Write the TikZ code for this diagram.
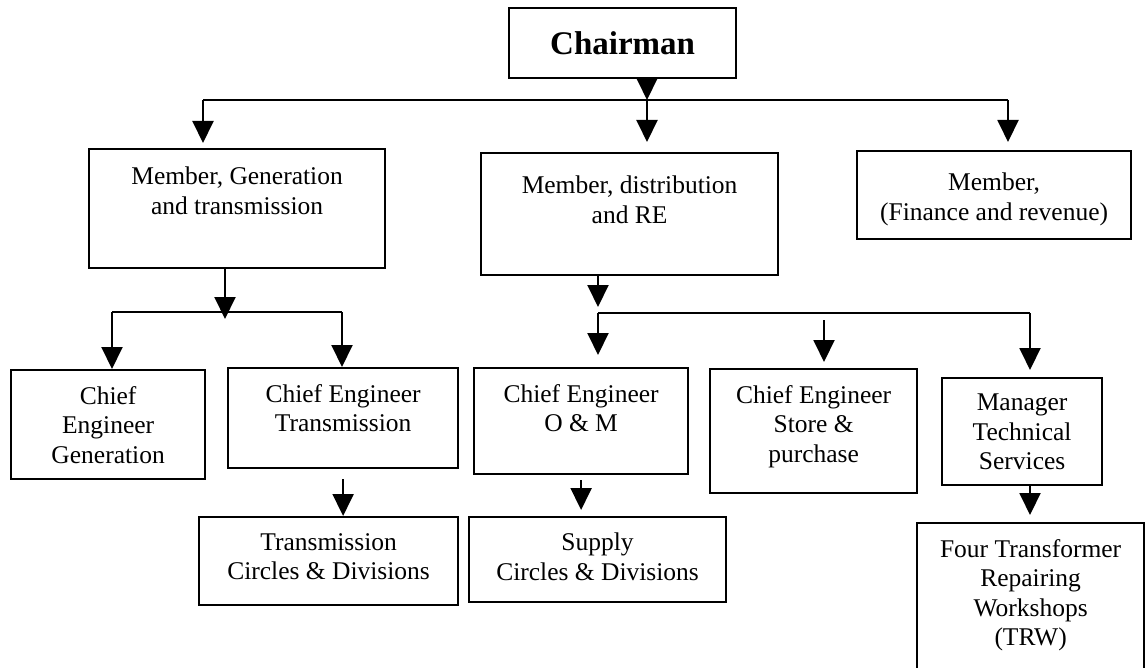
\documentclass[tikz,border=0pt]{standalone}
\usepackage{fontspec}
\setmainfont{Liberation Serif}
\usetikzlibrary{arrows.meta, positioning, calc}

\tikzset{
  unit/.style={draw, line width=2.2pt, anchor=north west, inner sep=0pt},
  lbl/.style={anchor=north, align=center, inner sep=0pt, font=\fontsize{25.5}{29.5}\selectfont},
  arr/.style={line width=2pt, -{Triangle[length=22pt,width=21pt]}},
  bus/.style={line width=2pt}
}

\begin{document}
\begin{tikzpicture}[x=1pt, y=-1pt]
\useasboundingbox (0,0) rectangle (1147,668);

% boxes
\node[unit, minimum width=227pt, minimum height=70pt, font=\fontsize{33}{38}\selectfont\bfseries] (chair) at (508,7) {Chairman};
\node[unit, minimum width=296pt, minimum height=119pt] (memgen) at (88,148) {};
\node[unit, minimum width=297pt, minimum height=122pt] (memdist) at (480,152) {};
\node[unit, minimum width=274pt, minimum height=88pt] (fin) at (856,150) {};
\node[unit, minimum width=194pt, minimum height=109pt] (cegen) at (10,369) {};
\node[unit, minimum width=230pt, minimum height=100pt] (cetrans) at (227,367) {};
\node[unit, minimum width=214pt, minimum height=106pt] (ceom) at (473,367) {};
\node[unit, minimum width=207pt, minimum height=124pt] (store) at (709,368) {};
\node[unit, minimum width=160pt, minimum height=107pt] (mgr) at (941,377) {};
\node[unit, minimum width=259pt, minimum height=88pt] (transcirc) at (198,516) {};
\node[unit, minimum width=257pt, minimum height=85pt] (supply) at (468,516) {};
\node[unit, minimum width=227pt, minimum height=160pt] (trw) at (916,522) {};

% texts
\node[lbl, below=19pt of memgen.north] (memgentxt) {Member, Generation\\and transmission};
\node[lbl, below=24pt of memdist.north] (memdisttxt) {Member, distribution\\and RE};
\node[lbl, below=23pt of fin.north] (fintxt) {Member,\\(Finance and revenue)};
\node[lbl, below=17pt of cegen.north] (cegentxt) {Chief\\Engineer\\Generation};
\node[lbl, below=17pt of cetrans.north] (cetranstxt) {Chief Engineer\\Transmission};
\node[lbl, below=17pt of ceom.north] (ceomtxt) {Chief Engineer\\O \& M};
\node[lbl, below=17pt of store.north] (storetxt) {Chief Engineer\\Store \&\\purchase};
\node[lbl, below=17pt of mgr.north] (mgrtxt) {Manager\\Technical\\Services};
\node[lbl, below=17pt of transcirc.north] (transcirctxt) {Transmission\\Circles \& Divisions};
\node[lbl, below=17pt of supply.north] (supplytxt) {Supply\\Circles \& Divisions};
\node[lbl, below=17pt of trw.north] (trwtxt) {Four Transformer\\Repairing\\Workshops\\(TRW)};

% bus points
\coordinate (top) at (647,100);
\coordinate (topL) at (203,100);
\coordinate (topR) at (1008,100);
\coordinate (genbus) at (225,312);
\coordinate (genL) at (112,312);
\coordinate (genR) at (342,312);
\coordinate (disL) at (598,313);
\coordinate (disM) at (824,313);
\coordinate (disR) at (1030,313);

% chairman level
\draw[arr] (chair.south -| top) -- (top);
\draw[bus] (topL) -- (topR);
\draw[arr, shorten >=5pt] (topL) -- (memgen.north -| topL);
\draw[arr, shorten >=10pt] (top) -- (memdist.north -| top);
\draw[arr, shorten >=8pt] (topR) -- (fin.north -| topR);

% generation and transmission
\draw[arr, shorten >=-7pt] (memgen.south -| genbus) -- (genbus);
\draw[bus] (genL) -- (genR);
\draw[arr] (genL) -- (cegen.north -| genL);
\draw[arr] (genR) -- (cetrans.north -| genR);
\draw[arr, shorten <=10pt] (cetrans.south) -- (cetrans.south |- transcirc.north);

% distribution
\draw[arr, shorten >=6pt] (memdist.south -| disL) -- (disL);
\draw[bus] (disL) -- (disR);
\draw[arr, shorten >=12pt] (disL) -- (ceom.north -| disL);
\draw[arr, shorten <=7pt, shorten >=6pt] (disM) -- (store.north -| disM);
\draw[arr, shorten >=7pt] (disR) -- (mgr.north -| disR);
\draw[arr, shorten <=5pt, shorten >=6pt] (ceom.south) -- (ceom.south |- supply.north);
\draw[arr, shorten >=7pt] (mgr.south -| disR) -- (trw.north -| disR);
\end{tikzpicture}
\end{document}
